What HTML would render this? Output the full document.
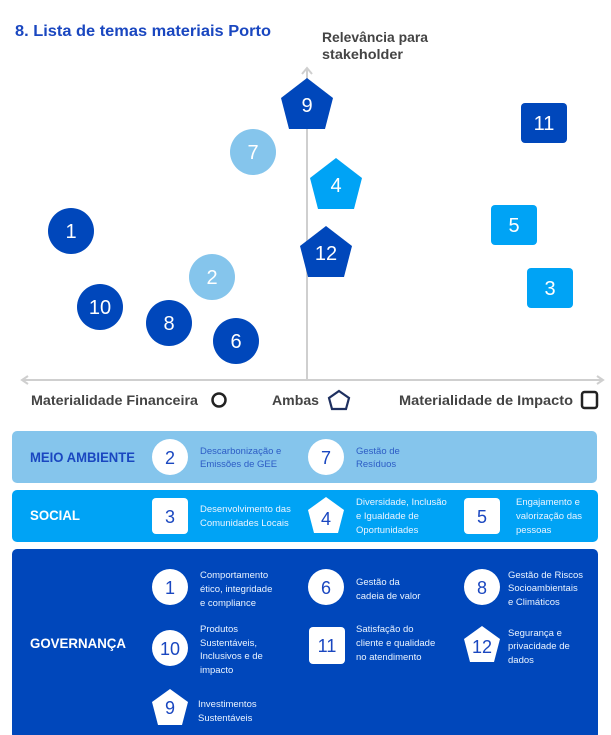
<!DOCTYPE html>
<html><head><meta charset="utf-8"><style>
html,body{margin:0;padding:0;background:#fff;}
svg{display:block;font-family:"Liberation Sans",sans-serif;}
</style></head><body>
<svg width="611" height="735" viewBox="0 0 611 735" xmlns="http://www.w3.org/2000/svg">
<!-- title -->
<text x="15" y="36" font-size="16" font-weight="bold" fill="#1a47c0" textLength="256" lengthAdjust="spacingAndGlyphs">8. Lista de temas materiais Porto</text>
<text x="322" y="42" font-size="14" font-weight="bold" fill="#444" textLength="106" lengthAdjust="spacingAndGlyphs">Relevância para</text>
<text x="322" y="59" font-size="14" font-weight="bold" fill="#444" textLength="81" lengthAdjust="spacingAndGlyphs">stakeholder</text>
<!-- axes -->
<g stroke="#cfcfcf" stroke-width="2" fill="none">
<line x1="307" y1="68" x2="307" y2="380"/>
<polyline points="302,74 307,68 312,74"/>
<line x1="22" y1="380" x2="603" y2="380"/>
<polyline points="28,376 22,380 28,384"/>
<polyline points="597,376 603,380 597,384"/>
</g>
<!-- chart shapes -->
<g font-size="20" fill="#fff" text-anchor="middle">
<polygon points="307,78 333,98 325,129 289,129 281,98" fill="#0047bb"/>
<text x="307" y="112">9</text>
<circle cx="253" cy="152" r="23" fill="#85c5ec"/><text x="253" y="159">7</text>
<rect x="521" y="103" width="46" height="40" rx="4" fill="#0047bb"/><text x="544" y="130">11</text>
<polygon points="336,158 362,178 354,209 318,209 310,178" fill="#00a3f5"/>
<text x="336" y="192">4</text>
<circle cx="71" cy="231" r="23" fill="#0047bb"/><text x="71" y="238">1</text>
<rect x="491" y="205" width="46" height="40" rx="4" fill="#00a3f5"/><text x="514" y="232">5</text>
<polygon points="326,226 352,246 344,277 308,277 300,246" fill="#0047bb"/>
<text x="326" y="260">12</text>
<circle cx="212" cy="277" r="23" fill="#85c5ec"/><text x="212" y="284">2</text>
<rect x="527" y="268" width="46" height="40" rx="4" fill="#00a3f5"/><text x="550" y="295">3</text>
<circle cx="100" cy="307" r="23" fill="#0047bb"/><text x="100" y="314">10</text>
<circle cx="169" cy="323" r="23" fill="#0047bb"/><text x="169" y="330">8</text>
<circle cx="236" cy="341" r="23" fill="#0047bb"/><text x="236" y="348">6</text>
</g>
<!-- legend -->
<g font-size="14" font-weight="bold" fill="#444">
<text x="31" y="405" textLength="167" lengthAdjust="spacingAndGlyphs">Materialidade Financeira</text>
<text x="272" y="405" textLength="47" lengthAdjust="spacingAndGlyphs">Ambas</text>
<text x="399" y="405" textLength="174" lengthAdjust="spacingAndGlyphs">Materialidade de Impacto</text>
</g>
<circle cx="219" cy="400" r="6.5" fill="none" stroke="#222" stroke-width="2.5"/>
<polygon points="339,391 349,398 346,409 332,409 329,398" fill="none" stroke="#1e3060" stroke-width="2.2"/>
<rect x="582" y="392" width="15" height="16" rx="2.5" fill="none" stroke="#222" stroke-width="2.5"/>

<!-- panels -->
<rect x="12" y="431" width="585" height="52" rx="5" fill="#85c5ec"/>
<rect x="12" y="490" width="586" height="52" rx="5" fill="#00a3f5"/>
<rect x="12" y="549" width="586" height="190" rx="5" fill="#0047bb"/>

<g font-size="14" font-weight="bold">
<text x="30" y="462" fill="#1a47c0" textLength="105" lengthAdjust="spacingAndGlyphs">MEIO AMBIENTE</text>
<text x="30" y="520" fill="#fff" textLength="50" lengthAdjust="spacingAndGlyphs">SOCIAL</text>
<text x="30" y="648" fill="#fff" textLength="96" lengthAdjust="spacingAndGlyphs">GOVERNANÇA</text>
</g>

<!-- icons -->
<g fill="#fff">
<circle cx="170" cy="457" r="18"/><circle cx="326" cy="457" r="18"/>
<rect x="152" y="498" width="36" height="36" rx="4"/>
<polygon points="326,497 344,510 338,533 314,533 308,510"/>
<rect x="464" y="498" width="36" height="36" rx="4"/>
<circle cx="170" cy="587" r="18"/><circle cx="326" cy="587" r="18"/><circle cx="482" cy="587" r="18"/>
<circle cx="170" cy="648" r="18"/>
<rect x="309" y="627" width="36" height="37" rx="4"/>
<polygon points="482,626 500,639 494,662 470,662 464,639"/>
<polygon points="170,689 188,702 182,725 158,725 152,702"/>
</g>
<g font-size="18" text-anchor="middle" fill="#1a47c0">
<text x="170" y="464">2</text><text x="326" y="464">7</text>
<text x="170" y="523">3</text><text x="326" y="525">4</text><text x="482" y="523">5</text>
<text x="170" y="594">1</text><text x="326" y="594">6</text><text x="482" y="594">8</text>
<text x="170" y="655">10</text><text x="327" y="652">11</text><text x="482" y="653">12</text>
<text x="170" y="714">9</text>
</g>

<!-- descriptions -->
<g font-size="9.5" fill="#2c5cc5">
<text x="200" y="454">Descarbonização e</text><text x="200" y="467">Emissões de GEE</text>
<text x="356" y="454">Gestão de</text><text x="356" y="467">Resíduos</text>
</g>
<g font-size="9.5" fill="#eaf4ff">
<text x="200" y="512">Desenvolvimento das</text><text x="200" y="526">Comunidades Locais</text>
<text x="356" y="505">Diversidade, Inclusão</text><text x="356" y="519">e  Igualdade de</text><text x="356" y="533">Oportunidades</text>
<text x="516" y="505">Engajamento e</text><text x="516" y="519">valorização das</text><text x="516" y="533">pessoas</text>
<text x="200" y="578">Comportamento</text><text x="200" y="592">ético, integridade</text><text x="200" y="606">e compliance</text>
<text x="356" y="585">Gestão da</text><text x="356" y="599">cadeia de valor</text>
<text x="508" y="578">Gestão de Riscos</text><text x="508" y="591">Socioambientais</text><text x="508" y="605">e Climáticos</text>
<text x="200" y="632">Produtos</text><text x="200" y="646">Sustentáveis,</text><text x="200" y="659">Inclusivos e de</text><text x="200" y="673">impacto</text>
<text x="356" y="632">Satisfação do</text><text x="356" y="646">cliente e qualidade</text><text x="356" y="660">no atendimento</text>
<text x="508" y="636">Segurança e</text><text x="508" y="649">privacidade de</text><text x="508" y="663">dados</text>
<text x="198" y="707">Investimentos</text><text x="198" y="721">Sustentáveis</text>
</g>
</svg>
</body></html>
